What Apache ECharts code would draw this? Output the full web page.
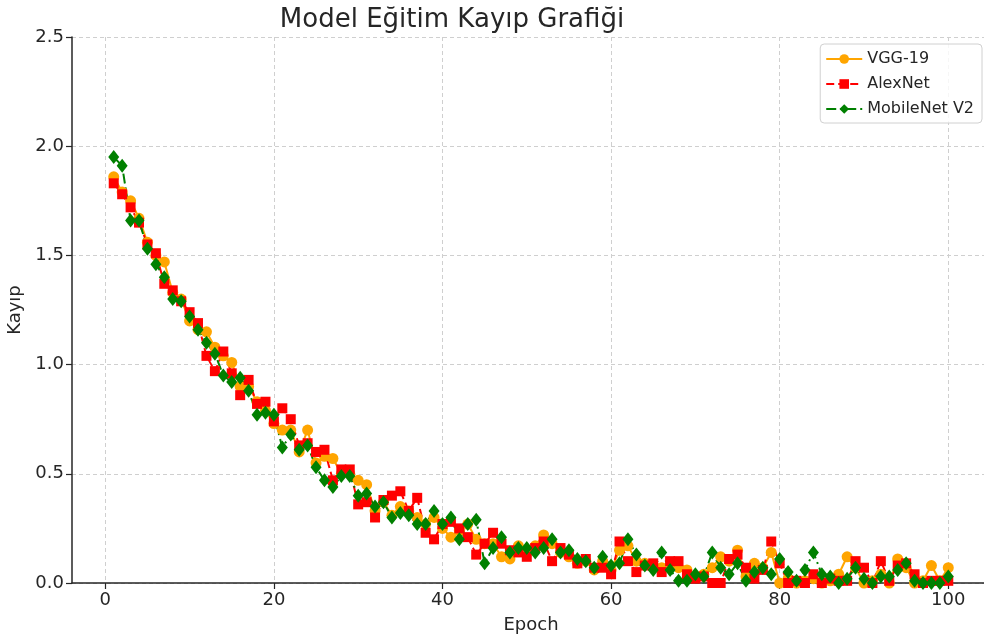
<!DOCTYPE html>
<html><head><meta charset="utf-8">
<script src="https://cdn.jsdelivr.net/npm/echarts@6/dist/echarts.min.js"></script>
<style>html,body{margin:0;padding:0;background:#fff}#c{width:984px;height:642px}</style>
</head><body><div id="c"></div>
<script>
const epochs = Array.from({length:100},(_,i)=>i+1);
const vgg19 = [1.86,1.79,1.75,1.67,1.56,1.50,1.47,1.33,1.30,1.20,1.16,1.15,1.08,1.04,1.01,0.90,0.90,0.83,0.79,0.73,
0.70,0.70,0.60,0.70,0.55,0.58,0.57,0.50,0.50,0.47,0.45,0.33,0.37,0.31,0.35,0.33,0.30,0.27,0.30,0.25,
0.21,0.24,0.27,0.20,0.18,0.18,0.12,0.11,0.17,0.14,0.17,0.22,0.18,0.14,0.12,0.09,0.10,0.06,0.10,0.06,
0.15,0.17,0.10,0.09,0.08,0.07,0.08,0.07,0.06,0.03,0.04,0.07,0.12,0.10,0.15,0.03,0.09,0.07,0.14,0.00,
0.02,0.00,0.01,0.02,0.00,0.01,0.04,0.12,0.07,0.00,0.01,0.04,0.00,0.11,0.07,0.00,0.01,0.08,0.01,0.07];
const alexnet = [1.83,1.78,1.72,1.65,1.55,1.51,1.37,1.34,1.29,1.24,1.19,1.04,0.97,1.06,0.96,0.86,0.93,0.82,0.83,0.74,
0.80,0.75,0.63,0.64,0.60,0.61,0.47,0.52,0.52,0.36,0.37,0.30,0.38,0.40,0.42,0.33,0.39,0.23,0.20,0.27,
0.28,0.25,0.21,0.13,0.18,0.23,0.18,0.15,0.14,0.12,0.16,0.19,0.10,0.16,0.13,0.09,0.11,0.07,0.07,0.04,
0.19,0.10,0.05,0.08,0.09,0.05,0.10,0.10,0.04,0.02,0.03,0.00,0.00,0.11,0.13,0.07,0.02,0.06,0.19,0.09,
0.00,0.01,0.00,0.04,0.00,0.02,0.01,0.01,0.10,0.07,0.00,0.10,0.01,0.08,0.09,0.04,0.00,0.01,0.01,0.01];
const mobilenet = [1.95,1.91,1.66,1.66,1.53,1.46,1.40,1.30,1.29,1.22,1.16,1.10,1.05,0.95,0.92,0.94,0.88,0.77,0.78,0.77,
0.62,0.68,0.61,0.63,0.53,0.47,0.44,0.49,0.49,0.40,0.41,0.35,0.37,0.30,0.32,0.31,0.27,0.27,0.33,0.27,
0.30,0.20,0.27,0.29,0.09,0.16,0.21,0.14,0.16,0.16,0.14,0.16,0.20,0.14,0.15,0.11,0.10,0.07,0.12,0.08,
0.09,0.20,0.13,0.08,0.06,0.14,0.06,0.01,0.01,0.04,0.03,0.14,0.07,0.04,0.09,0.01,0.05,0.07,0.04,0.11,
0.05,0.01,0.06,0.14,0.04,0.03,0.00,0.02,0.07,0.02,0.00,0.03,0.03,0.06,0.09,0.01,0.00,0.00,0.00,0.03];
const seriesNames = ['VGG-19','AlexNet','MobileNet V2'];
const xTicks = [0,20,40,60,80,100];
const yTicks = [0,0.5,1.0,1.5,2.0,2.5];

const font = 'DejaVu Sans';
const txt = '#262626';
const toPts = arr => arr.map((v,i)=>[epochs[i], v]);
const chart = echarts.init(document.getElementById('c'));
chart.setOption({
  animation:false,
  backgroundColor:'#fff',
  textStyle:{fontFamily:font},
  title:{text:'Model Eğitim Kayıp Grafiği', left:447, top:2, textAlign:'center',
    textStyle:{fontFamily:font, fontSize:26, fontWeight:'normal', color:txt}},
  grid:{left:72, right:-6, top:37, bottom:59, outerBoundsMode:'none', containLabel:false},
  legend:{right:2, top:44, orient:'vertical', itemGap:9, itemWidth:36, itemHeight:12,
    padding:[7,8,6,5], borderColor:'#d0d0d0', borderWidth:1, borderRadius:4, backgroundColor:'rgba(255,255,255,0.8)',
    textStyle:{fontFamily:font, fontSize:16, color:txt}, data:seriesNames},
  xAxis:{type:'value', min:-3.95, max:104.95, name:'Epoch', nameLocation:'middle', nameGap:33,
    nameTextStyle:{fontFamily:font, fontSize:18, color:txt},
    axisLine:{show:true, onZero:false, lineStyle:{color:txt, width:1.5}},
    axisTick:{show:true, customValues:xTicks, length:6, lineStyle:{color:txt, width:1.2}},
    axisLabel:{customValues:xTicks, fontFamily:font, fontSize:18, color:txt, margin:8},
    splitLine:{show:true, lineStyle:{color:'#cfcfcf', type:[4,3], width:1}}},
  yAxis:{type:'value', min:0, max:2.5, interval:0.5, name:'Kayıp', nameLocation:'middle', nameGap:45,
    nameTextStyle:{fontFamily:font, fontSize:18, color:txt},
    axisLine:{show:true, onZero:false, lineStyle:{color:txt, width:1.5}},
    axisTick:{show:true, length:6, lineStyle:{color:txt, width:1.2}},
    axisLabel:{fontFamily:font, fontSize:18, color:txt, margin:8, formatter:v=>v.toFixed(1)},
    splitLine:{show:true, lineStyle:{color:'#cfcfcf', type:[4,3], width:1}}},
  series:[
    {name:seriesNames[0], type:'line', data:toPts(vgg19), symbol:'circle', symbolSize:11,
      itemStyle:{color:'#FFA500'}, lineStyle:{color:'#FFA500', width:2}},
    {name:seriesNames[1], type:'line', data:toPts(alexnet), symbol:'rect', symbolSize:10,
      itemStyle:{color:'#FF0000'}, lineStyle:{color:'#FF0000', width:2, type:[8,4]}},
    {name:seriesNames[2], type:'line', data:toPts(mobilenet), symbol:'diamond', symbolSize:[11,14],
      itemStyle:{color:'#008000'}, lineStyle:{color:'#008000', width:2, type:[10,4,2,4]}}
  ]
});
</script></body></html>
